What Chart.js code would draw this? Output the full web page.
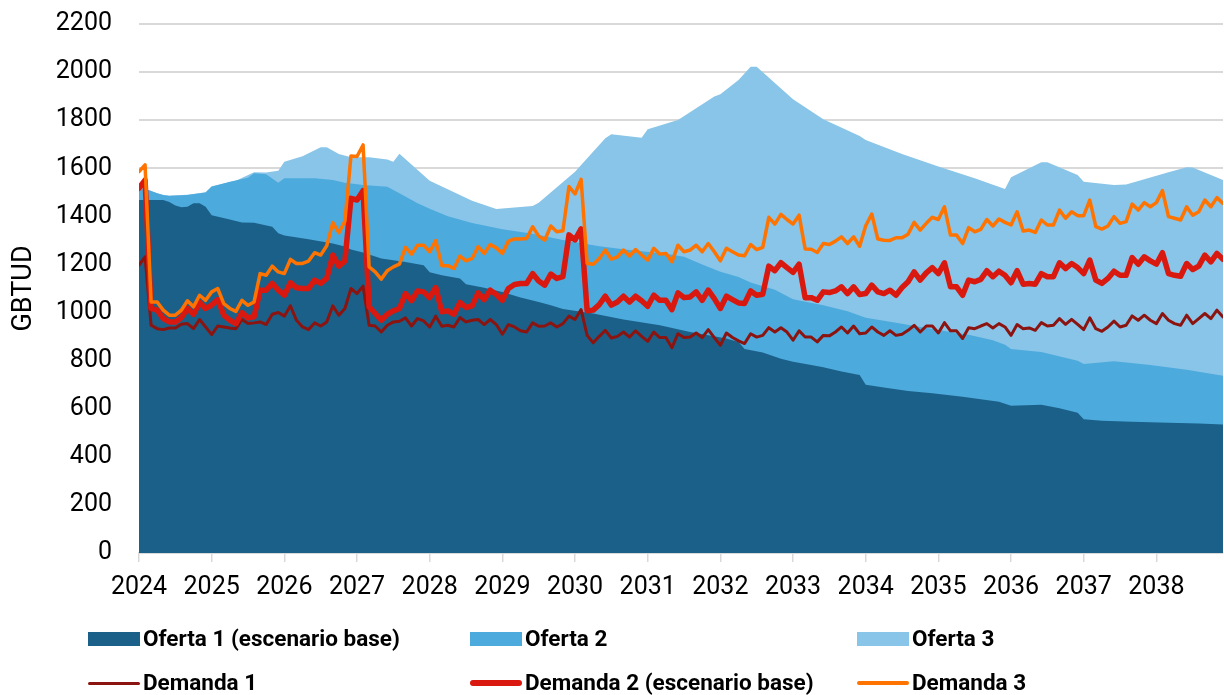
<!DOCTYPE html>
<html>
<head>
<meta charset="utf-8">
<script src="https://cdn.jsdelivr.net/npm/chart.js@4.4.1/dist/chart.umd.min.js"></script>
<style>
  html, body { margin: 0; padding: 0; background: #fff; }
  #wrap { position: relative; width: 1224px; height: 695px; overflow: hidden; }
  #c { position: absolute; left: 0; top: 0; }
  .lg { position: absolute; font-family: Roboto, "Noto Sans", sans-serif; font-weight: 700; font-size: 22.5px; color: #000; white-space: nowrap; line-height: 1; }
  .sw { position: absolute; }
</style>
</head>
<body>
<div id="wrap">
  <canvas id="c" width="1224" height="695"></canvas>
  <div id="legend"></div>
</div>
<script>
// x tick labels (years); data x positions are month indices from Jan 2024
const years = [2024, 2025, 2026, 2027, 2028, 2029, 2030, 2031, 2032, 2033, 2034, 2035, 2036, 2037, 2038];

// Supply areas: [month index, GBTUD] at breakpoints
const oferta1 = [[0,1468],[4,1468],[5,1460],[6,1445],[7,1438],[8,1440],[9,1455],[10,1455],[11,1440],[12,1405],[15,1387],[17,1375],[19,1373],[22,1357],[23,1330],[24,1320],[28,1305],[32,1287],[34,1275],[35,1262],[37,1250],[40,1225],[44,1210],[47,1197],[48,1168],[50,1155],[53,1142],[54,1118],[57,1103],[60,1085],[63,1063],[66,1044],[68,1030],[70,1015],[75,996],[80,971],[86,947],[91,919],[97,892],[99,878],[100,848],[103,834],[106,808],[108,795],[111,782],[113,773],[116,755],[119,740],[120,700],[123,688],[127,674],[131,664],[136,650],[142,629],[144,612],[149,617],[152,602],[155,583],[156,556],[159,550],[164,546],[170,542],[175,539],[179,534]];

const oferta2 = [[0,1517],[1,1515],[3,1496],[4,1489],[5,1485],[8,1489],[11,1499],[12,1523],[15,1544],[18,1561],[19,1579],[21,1575],[23,1540],[24,1558],[29,1558],[32,1551],[34,1540],[37,1530],[41,1523],[43,1496],[46,1455],[48,1432],[51,1400],[55,1372],[60,1346],[65,1328],[70,1302],[76,1276],[81,1260],[87,1245],[90,1232],[93,1200],[96,1170],[99,1148],[101,1125],[105,1095],[108,1055],[113,1030],[117,1005],[120,978],[125,958],[131,932],[137,908],[141,885],[143,866],[144,848],[149,836],[155,800],[156,786],[161,797],[167,782],[173,762],[179,737]];

const oferta3 = [[0,1517],[1,1515],[3,1496],[4,1489],[5,1487],[8,1490],[11,1500],[12,1525],[16,1548],[19,1583],[21,1582],[23,1590],[24,1627],[27,1650],[30,1687],[31,1687],[33,1659],[35,1646],[38,1646],[41,1637],[42,1627],[43,1660],[48,1548],[55,1465],[59,1431],[65,1443],[66,1457],[72,1586],[77,1725],[78,1741],[83,1727],[84,1762],[89,1801],[95,1898],[96,1908],[99,1967],[101,2022],[102,2022],[108,1887],[113,1804],[119,1734],[120,1718],[126,1659],[132,1607],[138,1558],[143,1514],[144,1563],[149,1625],[150,1625],[155,1572],[156,1544],[161,1530],[163,1532],[170,1583],[173,1604],[174,1603],[176,1582],[179,1551]];

// Demand lines: monthly values, Jan 2024 .. Dec 2038
const demanda1 = [1197,1232,947,933,929,936,936,951,954,933,971,940,908,944,940,936,933,971,954,957,961,950,993,1000,985,1028,968,940,929,957,944,961,1028,989,1017,1100,1079,1110,947,944,919,947,961,964,978,944,975,965,940,985,943,947,940,979,961,968,971,950,971,950,910,950,940,924,919,957,943,944,957,940,954,985,971,1012,905,874,901,926,894,901,919,898,924,901,880,919,896,896,854,912,896,898,915,896,929,896,864,915,896,882,871,912,898,905,937,919,937,919,885,924,898,898,878,905,903,919,940,915,944,912,915,940,919,905,924,905,910,926,947,919,944,944,915,958,924,924,892,937,933,944,954,936,954,940,905,950,933,936,926,958,944,947,975,951,972,951,929,978,933,922,940,964,940,947,986,968,989,968,954,996,968,954,947,989,954,975,996,975,1010,982];

const demanda2 = [1517,1551,1017,1010,975,961,961,979,1017,993,1042,1017,1031,1054,989,968,954,1000,978,982,1093,1093,1121,1093,1072,1124,1103,1100,1100,1135,1121,1142,1239,1193,1215,1475,1468,1507,1024,996,968,993,1007,1017,1079,1049,1090,1086,1062,1104,1003,1007,993,1042,1021,1028,1082,1054,1093,1075,1051,1100,1117,1121,1121,1162,1131,1114,1160,1142,1149,1323,1302,1348,1007,1010,1033,1068,1031,1044,1068,1044,1068,1049,1026,1072,1051,1051,1012,1082,1062,1065,1086,1051,1093,1058,1017,1068,1054,1040,1038,1090,1072,1076,1193,1174,1207,1187,1167,1201,1062,1062,1051,1086,1083,1090,1107,1079,1107,1075,1079,1114,1086,1079,1093,1072,1104,1128,1169,1135,1165,1187,1162,1207,1107,1107,1072,1135,1128,1138,1174,1149,1172,1155,1124,1174,1118,1121,1118,1162,1149,1149,1207,1183,1204,1187,1162,1218,1135,1121,1142,1172,1155,1155,1229,1201,1232,1215,1201,1249,1162,1155,1151,1204,1179,1193,1239,1211,1246,1221];

const demanda3 = [1586,1614,1044,1044,1010,989,989,1010,1049,1024,1072,1051,1086,1100,1037,1017,1005,1051,1030,1044,1162,1155,1193,1169,1162,1221,1204,1204,1214,1249,1239,1278,1374,1332,1380,1651,1649,1697,1190,1169,1139,1174,1190,1201,1271,1243,1280,1280,1253,1299,1195,1195,1183,1235,1215,1225,1274,1246,1283,1269,1246,1297,1306,1306,1308,1357,1318,1301,1360,1336,1340,1524,1493,1554,1204,1201,1225,1260,1222,1232,1260,1235,1262,1239,1218,1267,1243,1246,1211,1280,1253,1260,1280,1253,1287,1253,1215,1267,1253,1239,1236,1283,1262,1271,1396,1368,1408,1387,1368,1405,1264,1263,1250,1287,1283,1297,1315,1287,1315,1276,1361,1410,1306,1301,1300,1311,1311,1326,1375,1343,1371,1396,1387,1440,1322,1322,1287,1353,1336,1346,1387,1360,1389,1375,1364,1419,1339,1343,1333,1385,1364,1364,1426,1392,1419,1403,1403,1468,1357,1347,1360,1399,1371,1378,1451,1426,1457,1440,1457,1507,1399,1392,1385,1440,1405,1419,1468,1440,1478,1454];

const yTicks = [0,200,400,600,800,1000,1200,1400,1600,1800,2000,2200];

const COLORS = {
  o1: '#1b6088', o2: '#4caadd', o3: '#89c5e8',
  d1: '#8b1410', d2: '#d9190f', d3: '#ff7300'
};

// target plot box in the 1224x695 picture
const AREA = { left: 139, right: 1223, top: 24, bottom: 553 };

const pairs = arr => arr.map(([m, v]) => ({ x: m, y: v }));
const monthly = arr => arr.map((v, i) => ({ x: i, y: v }));

const areaDs = (label, data, color, order) => ({
  label, data: pairs(data), backgroundColor: color, borderColor: color,
  borderWidth: 0, fill: 'origin', pointRadius: 0, tension: 0, order
});
const lineDs = (label, data, color, width, order) => ({
  label, data: monthly(data), borderColor: color, backgroundColor: color,
  borderWidth: width, fill: false, pointRadius: 0, tension: 0, order,
  borderJoinStyle: 'round', borderCapStyle: 'round'
});

const chart = new Chart(document.getElementById('c'), {
  type: 'line',
  data: {
    datasets: [
      areaDs('Oferta 1 (escenario base)', oferta1, COLORS.o1, 4),
      areaDs('Oferta 2', oferta2, COLORS.o2, 5),
      areaDs('Oferta 3', oferta3, COLORS.o3, 6),
      lineDs('Demanda 1', demanda1, COLORS.d1, 3, 3),
      lineDs('Demanda 2 (escenario base)', demanda2, COLORS.d2, 5.5, 2),
      lineDs('Demanda 3', demanda3, COLORS.d3, 3.5, 1)
    ]
  },
  options: {
    responsive: false,
    animation: false,
    events: [],
    layout: { padding: { left: 0, right: 1, top: 24, bottom: 94 } },
    plugins: { legend: { display: false }, tooltip: { enabled: false } },
    scales: {
      x: {
        type: 'linear',
        min: 0, max: 179,
        afterBuildTicks: s => { s.ticks = years.map(y => ({ value: (y - years[0]) * 12 })); },
        afterFit: s => { s.height = 48; s.paddingLeft = 0; s.paddingRight = 0; },
        grid: { drawOnChartArea: false, drawTicks: true, tickLength: 9, color: '#d9d9d9', lineWidth: 1.5 },
        border: { display: true, color: '#d9d9d9', width: 1.5 },
        ticks: {
          padding: 11, maxRotation: 0, autoSkip: false, color: '#000',
          font: { family: 'Roboto', size: 25 },
          callback: v => String(years[0] + Math.round(v / 12))
        }
      },
      y: {
        min: 0, max: 2200,
        afterBuildTicks: s => { s.ticks = yTicks.map(v => ({ value: v })); },
        afterFit: s => { s.width = 139; s.paddingTop = 0; s.paddingBottom = 0; },
        grid: { color: '#d9d9d9', lineWidth: 2, drawTicks: false },
        border: { display: false },
        ticks: { padding: 27, color: '#000', font: { family: 'Roboto', size: 25 }, callback: v => String(v) },
        title: { display: true, text: 'GBTUD', color: '#000', font: { family: 'Roboto', size: 27 }, padding: { top: 8, bottom: 0 } }
      }
    }
  }
});

// nudge layout padding so the plot box lands where the reference has it
for (let k = 0; k < 3; k++) {
  const ca = chart.chartArea;
  const p = chart.options.layout.padding;
  const dt = AREA.top - ca.top, db = ca.bottom - AREA.bottom;
  if (Math.abs(dt) < 0.5 && Math.abs(db) < 0.5) break;
  p.top += dt; p.bottom += db;
  chart.update('none');
}

// HTML legend (positions)
const legendItems = [
  { text: 'Oferta 1 (escenario base)', color: COLORS.o1, kind: 'box', x: 88, y: 639 },
  { text: 'Oferta 2', color: COLORS.o2, kind: 'box', x: 470, y: 639 },
  { text: 'Oferta 3', color: COLORS.o3, kind: 'box', x: 857, y: 639 },
  { text: 'Demanda 1', color: COLORS.d1, kind: 'line', w: 3, x: 88, y: 683 },
  { text: 'Demanda 2 (escenario base)', color: COLORS.d2, kind: 'line', w: 6, x: 470, y: 683 },
  { text: 'Demanda 3', color: COLORS.d3, kind: 'line', w: 4, x: 857, y: 683 }
];
const lg = document.getElementById('legend');
legendItems.forEach(it => {
  const sw = document.createElement('div');
  sw.className = 'sw';
  sw.style.left = it.x + 'px';
  sw.style.width = '52px';
  sw.style.background = it.color;
  if (it.kind === 'box') {
    sw.style.top = (it.y - 7) + 'px'; sw.style.height = '14px';
  } else {
    sw.style.top = (it.y - it.w / 2) + 'px'; sw.style.height = it.w + 'px';
    sw.style.borderRadius = (it.w / 2) + 'px';
  }
  lg.appendChild(sw);
  const t = document.createElement('div');
  t.className = 'lg';
  t.textContent = it.text;
  t.style.left = (it.x + 55) + 'px';
  t.style.top = (it.y - 12) + 'px';
  lg.appendChild(t);
});
</script>
</body>
</html>
